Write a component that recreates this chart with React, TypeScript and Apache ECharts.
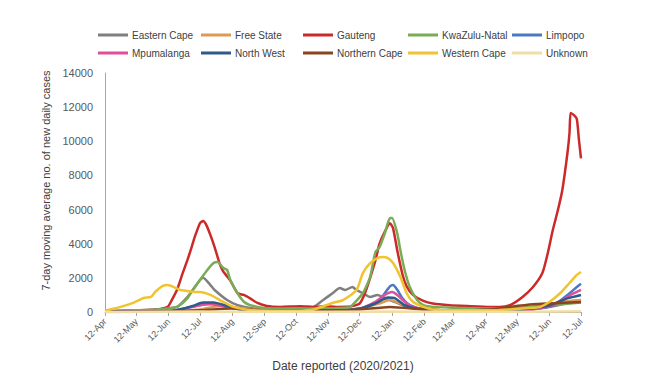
import React, { useEffect, useRef } from "react";
import * as echarts from "echarts";

type Pt = [string, number];

const START = "2020-04-12";
const tickDates = ["2020-04-12","2020-05-12","2020-06-12","2020-07-12","2020-08-12","2020-09-12","2020-10-12","2020-11-12","2020-12-12","2021-01-12","2021-02-12","2021-03-12","2021-04-12","2021-05-12","2021-06-12","2021-07-12"];
const tickLabels = ["12-Apr","12-May","12-Jun","12-Jul","12-Aug","12-Sep","12-Oct","12-Nov","12-Dec","12-Jan","12-Feb","12-Mar","12-Apr","12-May","12-Jun","12-Jul"];

const easternCape: Pt[] = [["2020-04-12",20],["2020-05-12",50],["2020-06-01",150],["2020-06-20",300],["2020-06-30",880],["2020-07-07",1460],["2020-07-12",1875],["2020-07-15",2000],["2020-07-22",1580],["2020-07-26",1290],["2020-08-07",700],["2020-08-17",400],["2020-09-01",200],["2020-09-14",150],["2020-10-16",200],["2020-10-29",300],["2020-11-07",700],["2020-11-16",1100],["2020-11-23",1400],["2020-11-28",1290],["2020-12-05",1460],["2020-12-09",1290],["2020-12-15",1100],["2020-12-22",880],["2020-12-29",1000],["2021-01-03",880],["2021-01-10",700],["2021-01-17",530],["2021-01-26",300],["2021-02-11",150],["2021-03-08",100],["2021-04-16",80],["2021-05-17",150],["2021-06-12",300],["2021-07-12",700]];
const freeState: Pt[] = [["2020-04-12",10],["2020-06-12",30],["2020-07-12",150],["2020-07-31",350],["2020-08-13",300],["2020-09-01",150],["2020-10-12",100],["2020-11-20",100],["2020-12-12",200],["2020-12-31",500],["2021-01-10",700],["2021-01-20",500],["2021-02-01",250],["2021-02-20",120],["2021-04-12",100],["2021-05-17",250],["2021-06-12",450],["2021-07-01",650],["2021-07-12",700]];
const gauteng: Pt[] = [["2020-04-12",50],["2020-05-12",100],["2020-06-01",150],["2020-06-11",300],["2020-06-15",700],["2020-06-20",1300],["2020-06-25",2200],["2020-06-30",3050],["2020-07-04",3800],["2020-07-07",4400],["2020-07-12",5200],["2020-07-15",5330],["2020-07-18",5100],["2020-07-22",4500],["2020-07-26",3800],["2020-07-31",2800],["2020-08-03",2400],["2020-08-10",1850],["2020-08-17",1100],["2020-08-23",1000],["2020-08-29",800],["2020-09-05",530],["2020-09-14",350],["2020-09-27",300],["2020-10-16",330],["2020-10-29",300],["2020-11-07",330],["2020-11-20",300],["2020-12-03",320],["2020-12-12",500],["2020-12-17",1100],["2020-12-22",2000],["2020-12-27",3000],["2020-12-31",4000],["2021-01-05",4700],["2021-01-10",5200],["2021-01-13",4900],["2021-01-17",3600],["2021-01-22",2200],["2021-01-26",1500],["2021-02-01",1000],["2021-02-11",650],["2021-02-20",500],["2021-03-08",400],["2021-03-25",350],["2021-04-16",300],["2021-04-25",300],["2021-05-05",400],["2021-05-17",880],["2021-05-27",1460],["2021-06-05",2280],["2021-06-10",3400],["2021-06-15",4800],["2021-06-20",6000],["2021-06-24",7100],["2021-06-29",9300],["2021-07-01",10500],["2021-07-02",11650],["2021-07-05",11550],["2021-07-08",11300],["2021-07-10",10100],["2021-07-12",9000]];
const kwazuluNatal: Pt[] = [["2020-04-12",30],["2020-05-12",100],["2020-06-01",150],["2020-06-20",300],["2020-06-30",800],["2020-07-03",1100],["2020-07-12",1875],["2020-07-19",2460],["2020-07-25",2870],["2020-07-29",2930],["2020-08-03",2600],["2020-08-07",2460],["2020-08-10",1875],["2020-08-17",1100],["2020-08-23",600],["2020-08-29",400],["2020-09-05",300],["2020-09-14",220],["2020-10-12",200],["2020-11-07",200],["2020-11-28",250],["2020-12-03",300],["2020-12-15",1100],["2020-12-22",2050],["2020-12-27",3500],["2020-12-31",3800],["2021-01-05",4600],["2021-01-10",5500],["2021-01-12",5500],["2021-01-17",4600],["2021-01-20",3600],["2021-01-24",2460],["2021-01-29",1460],["2021-02-05",700],["2021-02-11",400],["2021-02-20",300],["2021-03-12",250],["2021-04-12",200],["2021-05-05",200],["2021-05-27",300],["2021-06-12",400],["2021-07-12",550]];
const limpopo: Pt[] = [["2020-04-12",10],["2020-06-12",60],["2020-07-12",400],["2020-07-22",500],["2020-08-03",400],["2020-08-20",150],["2020-09-20",50],["2020-11-20",50],["2020-12-12",150],["2020-12-22",400],["2020-12-31",700],["2021-01-05",1100],["2021-01-10",1500],["2021-01-13",1580],["2021-01-17",1300],["2021-01-22",800],["2021-01-29",400],["2021-02-11",150],["2021-03-12",50],["2021-04-25",50],["2021-05-17",100],["2021-06-12",300],["2021-06-19",530],["2021-06-29",1000],["2021-07-08",1460],["2021-07-12",1650]];
const mpumalanga: Pt[] = [["2020-04-12",10],["2020-06-12",40],["2020-06-20",100],["2020-07-12",400],["2020-07-22",450],["2020-08-03",350],["2020-08-20",150],["2020-09-20",50],["2020-11-20",50],["2020-12-12",200],["2020-12-27",600],["2021-01-05",1000],["2021-01-12",1170],["2021-01-17",1000],["2021-01-24",600],["2021-02-01",300],["2021-02-20",100],["2021-03-12",50],["2021-04-25",50],["2021-05-27",150],["2021-06-12",350],["2021-06-24",700],["2021-07-05",1100],["2021-07-12",1300]];
const northWest: Pt[] = [["2020-04-12",10],["2020-06-12",40],["2020-06-20",100],["2020-07-05",350],["2020-07-15",550],["2020-07-25",550],["2020-08-07",350],["2020-08-20",150],["2020-09-20",80],["2020-11-20",80],["2020-12-12",200],["2020-12-27",500],["2021-01-08",850],["2021-01-15",800],["2021-01-24",400],["2021-02-05",200],["2021-03-12",80],["2021-04-25",80],["2021-05-17",150],["2021-06-12",400],["2021-06-29",800],["2021-07-12",1000]];
const northernCape: Pt[] = [["2020-04-12",5],["2020-06-12",20],["2020-07-12",100],["2020-08-10",200],["2020-09-12",100],["2020-11-20",100],["2020-12-12",150],["2021-01-10",300],["2021-02-12",150],["2021-03-12",100],["2021-04-16",150],["2021-05-05",300],["2021-05-27",450],["2021-06-12",500],["2021-07-01",550],["2021-07-12",580]];
const westernCape: Pt[] = [["2020-04-12",50],["2020-04-14",100],["2020-04-27",300],["2020-05-09",530],["2020-05-19",820],["2020-05-26",880],["2020-05-30",1170],["2020-06-06",1520],["2020-06-11",1580],["2020-06-17",1460],["2020-06-23",1290],["2020-06-30",1230],["2020-07-06",1170],["2020-07-12",1170],["2020-07-22",1000],["2020-07-31",700],["2020-08-13",300],["2020-08-29",120],["2020-09-20",80],["2020-10-16",80],["2020-10-29",150],["2020-11-16",530],["2020-11-26",700],["2020-12-09",1290],["2020-12-15",2280],["2020-12-22",2870],["2020-12-29",3160],["2021-01-03",3220],["2021-01-08",3160],["2021-01-13",2870],["2021-01-20",2050],["2021-01-26",1100],["2021-02-01",600],["2021-02-11",300],["2021-02-20",150],["2021-03-12",100],["2021-04-12",100],["2021-05-05",150],["2021-05-27",250],["2021-06-03",300],["2021-06-12",600],["2021-06-22",1100],["2021-07-01",1700],["2021-07-08",2170],["2021-07-12",2340]];
const unknown: Pt[] = [["2020-04-12",5],["2020-07-12",30],["2020-09-12",10],["2021-01-12",30],["2021-04-12",10],["2021-07-12",40]];

const seriesNames = ["Eastern Cape","Free State","Gauteng","KwaZulu-Natal","Limpopo","Mpumalanga","North West","Northern Cape","Western Cape","Unknown"];
const seriesData = [easternCape, freeState, gauteng, kwazuluNatal, limpopo, mpumalanga, northWest, northernCape, westernCape, unknown];
const colors = ["#7f7f7f","#dd9a57","#cc2a2a","#7aab55","#4a78c2","#df4f9e","#2e5a8a","#8a4520","#f0c330","#f1dda6"];

const dayOf = (s: string) => {
  const [y, m, d] = s.split("-").map(Number);
  const [y0, m0, d0] = START.split("-").map(Number);
  return Math.round((Date.UTC(y, m - 1, d) - Date.UTC(y0, m0 - 1, d0)) / 86400000);
};

const FONT = "Liberation Sans, Arial, sans-serif";

export default function App() {
  const ref = useRef<HTMLDivElement>(null);
  useEffect(() => {
    if (!ref.current) return;
    const chart = echarts.init(ref.current, undefined, { renderer: "svg" });
    const tickDays = tickDates.map(dayOf);
    const labelFor: Record<number, string> = {};
    tickDays.forEach((d, i) => (labelFor[d] = tickLabels[i]));
    const colLeft = [90, 193, 295, 400, 504];
    const legends = colLeft.map((left, c) => ({
      orient: "vertical" as const,
      left,
      top: 21,
      padding: 0,
      icon: "rect",
      itemWidth: 30,
      itemHeight: 3,
      itemGap: 6,
      data: [seriesNames[c], seriesNames[c + 5]],
      textStyle: { fontSize: 10, color: "#404040", fontFamily: FONT, lineHeight: 12, padding: [0, 0, 0, -1] },
    }));
    chart.setOption({
      animation: false,
      color: colors,
      legend: legends,
      grid: { left: 97, right: 63, top: 65, bottom: 72 },
      xAxis: {
        type: "value",
        min: 0,
        max: dayOf(tickDates[tickDates.length - 1]),
        name: "Date reported (2020/2021)",
        nameLocation: "middle",
        nameGap: 48,
        nameTextStyle: { fontSize: 12, color: "#404040", fontFamily: FONT },
        splitLine: { show: false },
        axisLine: { show: true, lineStyle: { color: "#a6a6a6" } },
        axisTick: { show: true, customValues: tickDays, length: 4, lineStyle: { color: "#a6a6a6" } },
        axisLabel: {
          customValues: tickDays,
          rotate: 45,
          fontSize: 9,
          color: "#595959",
          fontFamily: FONT,
          formatter: (v: number) => labelFor[v] ?? "",
        },
      },
      yAxis: {
        type: "value",
        min: 0,
        max: 14000,
        interval: 2000,
        name: "7-day moving average no. of new daily cases",
        nameLocation: "middle",
        nameGap: 50,
        nameTextStyle: { fontSize: 11, color: "#404040", fontFamily: FONT, padding: [0, 0, 0, 24] },
        splitLine: { show: false },
        axisLine: { show: true, lineStyle: { color: "#a6a6a6" } },
        axisTick: { show: false },
        axisLabel: { fontSize: 11, color: "#595959", fontFamily: FONT, margin: 12, formatter: (v: number) => String(v) },
      },
      series: seriesNames.map((name, i) => ({
        name,
        type: "line",
        symbol: "none",
        smooth: 0.2,
        lineStyle: { width: 2.5 },
        data: seriesData[i].map(([d, v]) => [dayOf(d), v]),
      })),
    });
    return () => chart.dispose();
  }, []);
  return <div ref={ref} style={{ width: 636, height: 376 }} />;
}
